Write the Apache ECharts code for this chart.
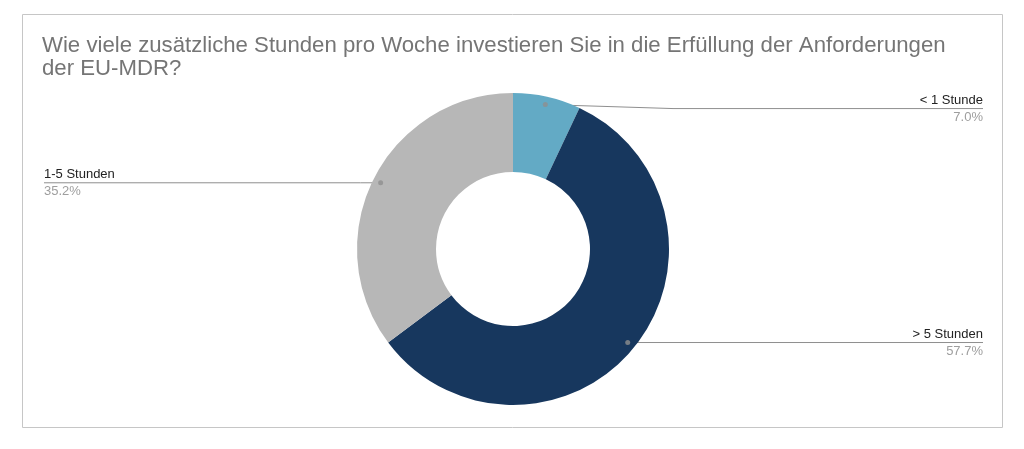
<!DOCTYPE html>
<html><head><meta charset="utf-8">
<script src="https://cdn.jsdelivr.net/npm/echarts@6/dist/echarts.min.js"></script>
<style>html,body{margin:0;padding:0;background:#fff}#c{width:1024px;height:449px}</style>
</head><body><div id="c"></div>
<script>
const categories = ['< 1 Stunde', '> 5 Stunden', '1-5 Stunden'];
const values = [7.0, 57.7, 35.2];
const colors = ['#63aac5', '#17375e', '#b7b7b7'];
const titleText = 'Wie viele zusätzliche Stunden pro Woche investieren Sie in die Erfüllung der Anforderungen\nder EU-MDR?';

const CX = 513, CY = 249, R_IN = 77, R_OUT = 156, DOT_R = 148;
const RIGHT_EDGE = 983, LEFT_EDGE = 44;

const total = values.reduce((a, b) => a + b, 0);
let cum = 0;
const dots = values.map(v => { const mid = cum + v / 2; cum += v; return [DOT_R, mid]; });

const chart = echarts.init(document.getElementById('c'), null, {renderer: 'canvas'});
chart.setOption({
  animation: false,
  backgroundColor: '#fff',
  graphic: [{
    type: 'rect', shape: {x: 22.5, y: 14.5, width: 980, height: 413},
    style: {fill: 'none', stroke: '#c6c6c6', lineWidth: 1}, silent: true, z: -10
  }],
  title: {
    text: titleText, left: 37, top: 29,
    textStyle: {fontFamily: 'Liberation Sans, Arial', fontSize: 22.2, fontWeight: 'normal', color: '#757575', lineHeight: 23}
  },
  polar: {center: [CX, CY], radius: R_OUT},
  angleAxis: {type: 'value', min: 0, max: total, startAngle: 90, clockwise: true, show: false},
  radiusAxis: {type: 'value', min: 0, max: R_OUT, show: false},
  series: [{
    type: 'pie',
    center: [CX, CY],
    radius: [R_IN, R_OUT],
    startAngle: 90,
    clockwise: true,
    data: categories.map((n, i) => ({name: n, value: values[i], itemStyle: {color: colors[i]}})),
    label: {
      show: true,
      position: 'outside',
      formatter: p => '{n|' + p.name + '}\n{p|' + p.value.toFixed(1) + '%}',
      rich: {
        n: {fontFamily: 'Liberation Sans, Arial', fontSize: 13, color: '#222', lineHeight: 17},
        p: {fontFamily: 'Liberation Sans, Arial', fontSize: 13, color: '#9e9e9e', lineHeight: 17}
      }
    },
    labelLine: {show: true, length: 10, length2: 10, lineStyle: {color: '#8f8f8f', width: 1}},
    labelLayout: function (p) {
      const pts = p.labelLinePoints;
      if (!pts) return {};
      const dx = pts[0][0] - CX, dy = pts[0][1] - CY;
      const d = Math.hypot(dx, dy);
      const a = [CX + dx * DOT_R / d, CY + dy * DOT_R / d];
      const right = dx > 0;
      const yLine = a[1] + (a[1] < CY - 120 ? 4 : 0);
      const xEnd = right ? RIGHT_EDGE : LEFT_EDGE;
      const xMid = right ? Math.max(a[0] + 20, 673) : a[0] - 20;
      return {
        x: xEnd, y: yLine, align: right ? 'right' : 'left', verticalAlign: 'middle',
        labelLinePoints: [a, [xMid, yLine], [xEnd, yLine]]
      };
    },
    emphasis: {disabled: true}
  }, {
    type: 'scatter',
    coordinateSystem: 'polar',
    data: dots,
    symbol: 'circle',
    symbolSize: 5,
    itemStyle: {color: '#8f8f8f'},
    z: 5,
    silent: true
  }]
});
</script></body></html>
